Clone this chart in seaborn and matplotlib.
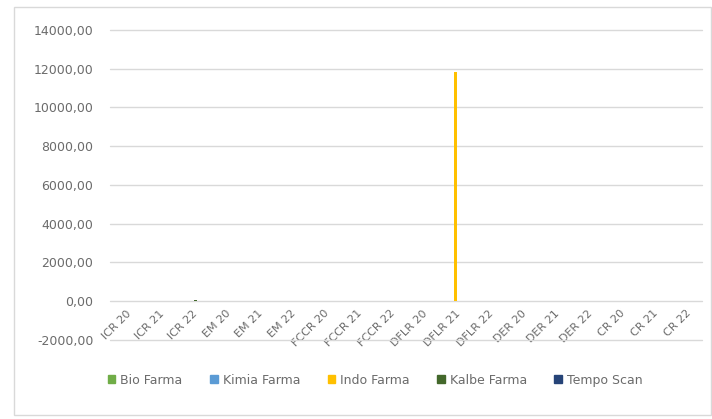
import matplotlib
matplotlib.use("Agg")
import matplotlib.pyplot as plt
import seaborn as sns
import pandas as pd
from matplotlib.patches import Rectangle
from matplotlib.ticker import FuncFormatter

categories = ["ICR 20", "ICR 21", "ICR 22", "EM 20", "EM 21", "EM 22",
              "FCCR 20", "FCCR 21", "FCCR 22", "DFLR 20", "DFLR 21", "DFLR 22",
              "DER 20", "DER 21", "DER 22", "CR 20", "CR 21", "CR 22"]
series = ["Bio Farma", "Kimia Farma", "Indo Farma", "Kalbe Farma", "Tempo Scan"]
bio_farma   = [0] * 18
kimia_farma = [0] * 18
indo_farma  = [0, 0, 0, 0, 0, 0, 0, 0, 0, 0, 11800, 0, 0, 0, 0, 0, 0, 0]
kalbe_farma = [0, 0, 80, 0, 0, 0, 0, 0, 0, 0, 0, 0, 0, 0, 0, 0, 0, 0]
tempo_scan  = [0] * 18
colors = ["#70AD47", "#5B9BD5", "#FFC000", "#43682B", "#264478"]

values = [bio_farma, kimia_farma, indo_farma, kalbe_farma, tempo_scan]
rows = []
for s, vals in zip(series, values):
    for c, v in zip(categories, vals):
        rows.append({"Kategori": c, "Perusahaan": s, "Nilai": v})
df = pd.DataFrame(rows)

sns.set_style("white")
plt.rcParams["font.family"] = ["DejaVu Sans"]

fig = plt.figure(figsize=(7.12, 4.19), dpi=100)
ax = fig.add_axes([110 / 712, 1 - 340 / 419, (702 - 110) / 712, (340 - 29.8) / 419])

sns.barplot(data=df, x="Kategori", y="Nilai", hue="Perusahaan", order=categories,
            hue_order=series, palette=colors, width=0.5, ax=ax, legend=False,
            errorbar=None, saturation=1, linewidth=0)

ax.set_ylim(-2000, 14000)
ax.set_yticks(range(-2000, 14001, 2000))
ax.yaxis.set_major_formatter(FuncFormatter(lambda v, p: f"{v:.2f}".replace(".", ",")))
ax.grid(axis="y", color="#D9D9D9", linewidth=1)
ax.set_axisbelow(True)
for gl in ax.get_ygridlines():
    gl.set_clip_on(False)
for sp in ["top", "right", "left"]:
    ax.spines[sp].set_visible(False)
ax.spines["bottom"].set_position(("data", 0))
ax.spines["bottom"].set_visible(False)
ax.set_xlabel("")
ax.set_ylabel("")
ax.tick_params(axis="y", length=0, pad=12, labelsize=9, labelcolor="#6B6B6B")
ax.tick_params(axis="x", length=0, pad=5, labelsize=8, labelcolor="#6B6B6B")
for lbl in ax.get_xticklabels():
    lbl.set_rotation(45)
    lbl.set_ha("right")
    lbl.set_va("top")
    lbl.set_rotation_mode("anchor")
ax.set_xlim(-0.5, len(categories) - 0.5)

handles = [Rectangle((0, 0), 1, 1, color=c) for c in colors]
fig.legend(handles, series, loc="center", bbox_to_anchor=(0.527, 0.093), ncol=5,
           frameon=False, fontsize=9, handlelength=0.6, handleheight=0.6,
           handletextpad=0.4, columnspacing=2.2, labelcolor="#6B6B6B")

fig.patches.append(Rectangle((14 / 712, 4 / 419), 697 / 712, 408 / 419,
                             transform=fig.transFigure, fill=False,
                             edgecolor="#D9D9D9", linewidth=1))

fig.savefig("out.png", dpi=100, facecolor="white")
